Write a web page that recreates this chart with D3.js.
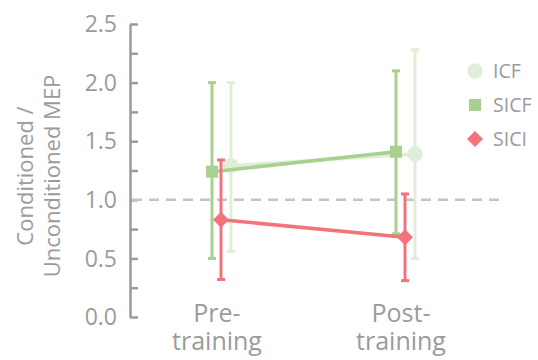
<!DOCTYPE html>
<html>
<head>
<meta charset="utf-8">
<script src="https://cdn.jsdelivr.net/npm/d3@7"></script>
<style>
  html, body { margin: 0; padding: 0; background: #fff; }
  svg { display: block; }
  text { font-family: "Open Sans", "Noto Sans", sans-serif; fill: #9b9b9b; }
</style>
</head>
<body>
<svg id="chart" width="538" height="360"></svg>
<script>
// Time points and their two-line labels
const categories = ["Pre", "Post"];
const categoryLabels = [["Pre-", "training"], ["Post-", "training"]];

// Series (drawn back to front)
const seriesNames = ["ICF", "SICF", "SICI"];
const icfMean  = [1.29, 1.39];
const icfLow   = [0.56, 0.50];
const icfHigh  = [2.00, 2.28];
const sicfMean = [1.24, 1.41];
const sicfLow  = [0.50, 0.71];
const sicfHigh = [2.00, 2.10];
const siciMean = [0.83, 0.68];
const siciLow  = [0.32, 0.31];
const siciHigh = [1.34, 1.05];

const yTicks = [0, 0.5, 1.0, 1.5, 2.0, 2.5];
const baseline = 1.0;

const series = [
  { name: "ICF",  mean: icfMean,  low: icfLow,  high: icfHigh,  color: "#e0eed8", shape: "circle",  offset: 10 },
  { name: "SICF", mean: sicfMean, low: sicfLow, high: sicfHigh, color: "#a9d08e", shape: "square",  offset: -9 },
  { name: "SICI", mean: siciMean, low: siciLow, high: siciHigh, color: "#f2737c", shape: "diamond", offset: 0 }
];

const svg = d3.select("#chart");

const y = d3.scaleLinear().domain([0, 2.5]).range([317, 24]);
const x = d3.scalePoint().domain(categories).range([221, 405]);

// Y axis: bracket-style line with inward ticks
const yAxis = d3.axisRight(y)
  .tickValues(d3.range(0, 2.5001, 0.25))
  .tickSize(8)
  .tickSizeOuter(0)
  .tickFormat("");
const gy = svg.append("g").attr("transform", "translate(130,0)").call(yAxis);
gy.select(".domain").attr("stroke", "#9b9b9b").attr("stroke-width", 2.5);
gy.selectAll(".tick line").attr("stroke", "#9b9b9b").attr("stroke-width", 2.5);

// Tick labels
svg.append("g").selectAll("text")
  .data(yTicks)
  .join("text")
  .attr("x", 117)
  .attr("y", d => y(d))
  .attr("dy", "0.36em")
  .attr("text-anchor", "end")
  .style("font-size", "23px")
  .text(d => d3.format(".1f")(d));

// Y axis title
const title = svg.append("text")
  .attr("transform", "translate(0,176) rotate(-90)")
  .attr("text-anchor", "middle")
  .style("font-size", "22px");
title.append("tspan").attr("x", 0).attr("y", 33).text("Conditioned /");
title.append("tspan").attr("x", 0).attr("y", 60).text("Unconditioned MEP");

// Reference line at ratio 1.0
svg.append("line")
  .attr("x1", 132).attr("x2", 500)
  .attr("y1", y(baseline)).attr("y2", y(baseline))
  .attr("stroke", "#c4c4c4")
  .attr("stroke-width", 2.5)
  .attr("stroke-dasharray", "10,7");

// Category labels
categories.forEach((c, i) => {
  const t = svg.append("text")
    .attr("text-anchor", "middle")
    .style("font-size", "25px");
  categoryLabels[i].forEach((line, j) => {
    t.append("tspan").attr("x", x(c) - 4).attr("y", 322 + j * 28).text(line);
  });
});

const symbolPath = {
  circle:  d3.symbol(d3.symbolCircle, 190)(),
  square:  d3.symbol(d3.symbolSquare, 144)(),
  diamond: "M0,-8L8,0L0,8L-8,0Z"
};

// Series: error bars, connecting line, markers
series.forEach(s => {
  const g = svg.append("g");
  const px = i => x(categories[i]) + s.offset;
  const idx = d3.range(categories.length);

  g.selectAll("line.err")
    .data(idx)
    .join("line")
    .attr("x1", px).attr("x2", px)
    .attr("y1", i => y(s.low[i])).attr("y2", i => y(s.high[i]))
    .attr("stroke", s.color).attr("stroke-width", 3);

  ["low", "high"].forEach(k => {
    g.selectAll("line.cap-" + k)
      .data(idx)
      .join("line")
      .attr("x1", i => px(i) - 4).attr("x2", i => px(i) + 4)
      .attr("y1", i => y(s[k][i])).attr("y2", i => y(s[k][i]))
      .attr("stroke", s.color).attr("stroke-width", 3);
  });

  g.append("path")
    .datum(idx)
    .attr("fill", "none")
    .attr("stroke", s.color)
    .attr("stroke-width", 3.5)
    .attr("d", d3.line().x(px).y(i => y(s.mean[i])));

  g.selectAll("path.mark")
    .data(idx)
    .join("path")
    .attr("transform", i => `translate(${px(i)},${y(s.mean[i])})`)
    .attr("d", symbolPath[s.shape])
    .attr("fill", s.color);
});

// Legend
const legend = svg.append("g");
seriesNames.forEach((name, i) => {
  const s = series.find(d => d.name === name);
  const cy = 71 + i * 34;
  legend.append("path")
    .attr("transform", `translate(475,${cy})`)
    .attr("d", symbolPath[s.shape])
    .attr("fill", s.color);
  legend.append("text")
    .attr("x", 493).attr("y", cy)
    .attr("dy", "0.36em")
    .style("font-size", "19.5px")
    .text(name);
});
</script>
</body>
</html>
